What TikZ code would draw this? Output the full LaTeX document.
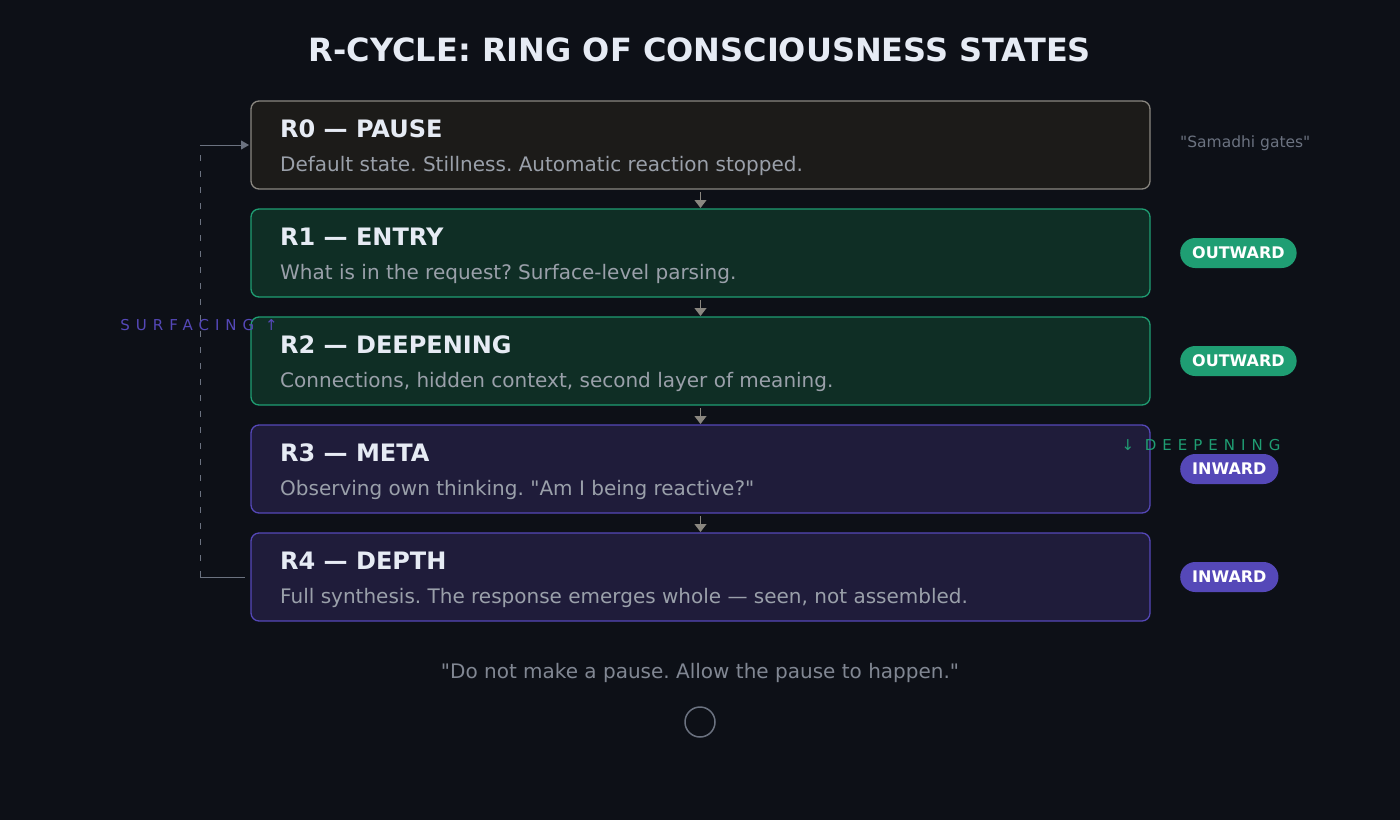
\documentclass[tikz,border=0pt]{standalone}
\usepackage{fontspec}
\setmainfont{DejaVu Sans}[Ligatures=TeXOff]
\usetikzlibrary{arrows.meta, positioning}

\definecolor{bg}{HTML}{0D1017}
\definecolor{titlewhite}{HTML}{E6EBF4}
\definecolor{desctext}{HTML}{9AA0AA}
\definecolor{mutetext}{HTML}{6B7280}
\definecolor{pausefill}{HTML}{1C1B19}
\definecolor{pauseedge}{HTML}{8A8780}
\definecolor{outfill}{HTML}{0F2E25}
\definecolor{outedge}{HTML}{1F9E73}
\definecolor{infill}{HTML}{1F1C3A}
\definecolor{inedge}{HTML}{5548B8}

\begin{document}
\frenchspacing
\begin{tikzpicture}[x=1pt, y=-1pt, node distance=20pt,
    state/.style={draw, rounded corners=8pt, minimum width=899pt, minimum height=88pt, line width=1.3pt, inner sep=0pt, outer sep=0pt},
    pausebox/.style={state, draw=pauseedge, fill=pausefill},
    outbox/.style={state, draw=outedge, fill=outfill},
    inbox/.style={state, draw=inedge, fill=infill},
    head/.style={anchor=base west, inner sep=0pt, text=titlewhite, font=\fontsize{24}{28}\selectfont\bfseries},
    desc/.style={anchor=base west, inner sep=0pt, text=desctext, font=\fontsize{20}{24}\selectfont},
    pill/.style={anchor=west, rounded corners=15pt, minimum height=30pt, inner xsep=12pt, text=white, font=\fontsize{16}{19}\selectfont\bfseries},
    spaced/.style={font=\fontsize{15}{18}\selectfont\addfontfeature{LetterSpace=40}},
    link/.style={draw=pauseedge, line width=1pt, -{Triangle[length=8pt, width=12pt]}, shorten <=3pt, shorten >=1pt},
    loopline/.style={draw=mutetext, line width=0.9pt}]
\fill[bg] (0,0) rectangle (1400,820);

\node[text=titlewhite, font=\fontsize{32}{38}\selectfont\bfseries] (title) at (700,50) {R-CYCLE: RING OF CONSCIOUSNESS STATES};

% ring states
\node[pausebox] (r0) at (700.5,145) {};
\node[outbox, below=of r0] (r1) {};
\node[outbox, below=of r1] (r2) {};
\node[inbox, below=of r2] (r3) {};
\node[inbox, below=of r3] (r4) {};

\node[head] (h0) at ([xshift=29pt, yshift=-36pt]r0.north west) {R0 — PAUSE};
\node[desc] (d0) at ([xshift=29pt, yshift=-70pt]r0.north west) {Default state. Stillness. Automatic reaction stopped.};
\node[head] (h1) at ([xshift=29pt, yshift=-36pt]r1.north west) {R1 — ENTRY};
\node[desc] (d1) at ([xshift=29pt, yshift=-70pt]r1.north west) {What is in the request? Surface-level parsing.};
\node[head] (h2) at ([xshift=29pt, yshift=-36pt]r2.north west) {R2 — DEEPENING};
\node[desc] (d2) at ([xshift=29pt, yshift=-70pt]r2.north west) {Connections, hidden context, second layer of meaning.};
\node[head] (h3) at ([xshift=29pt, yshift=-36pt]r3.north west) {R3 — META};
\node[desc] (d3) at ([xshift=29pt, yshift=-70pt]r3.north west) {Observing own thinking. "Am I being reactive?"};
\node[head] (h4) at ([xshift=29pt, yshift=-36pt]r4.north west) {R4 — DEPTH};
\node[desc] (d4) at ([xshift=29pt, yshift=-70pt]r4.north west) {Full synthesis. The response emerges whole — seen, not assembled.};

\draw[link] (r0) -- (r1);
\draw[link] (r1) -- (r2);
\draw[link] (r2) -- (r3);
\draw[link] (r3) -- (r4);

% side tags
\node[anchor=base west, inner sep=0pt, text=mutetext, font=\fontsize{15.5}{18}\selectfont] (gates) at ([xshift=30pt, yshift=-2pt]r0.east) {"Samadhi gates"};
\node[pill, fill=outedge, right=30pt of r1] (p1) {OUTWARD};
\node[pill, fill=outedge, right=30pt of r2] (p2) {OUTWARD};
\node[pill, fill=inedge, right=30pt of r3] (p3) {INWARD};
\node[pill, fill=inedge, right=30pt of r4] (p4) {INWARD};

% return loop
\coordinate (looptop) at (200,145);
\coordinate (loopbot) at (200,577);
\draw[loopline, dash pattern=on 6pt off 10pt] (loopbot) -- (looptop);
\draw[loopline, -{Triangle[length=8pt, width=9pt]}] (looptop) -- ([xshift=-2pt]r0.west);
\draw[loopline] ([xshift=-6pt]r4.west) -- (loopbot);
\node[spaced, text=inedge] (surf) at (199,325) {SURFACING ↑};
\node[spaced, text=outedge] (deep) at (1201,445) {↓ DEEPENING};

\node[text=mutetext!85!white, font=\fontsize{20}{24}\selectfont] (quote) at (700,673) {"Do not make a pause. Allow the pause to happen."};
\node[circle, draw=mutetext, line width=1.5pt, minimum size=30pt] (dot) at (700,722) {};
\end{tikzpicture}
\end{document}
